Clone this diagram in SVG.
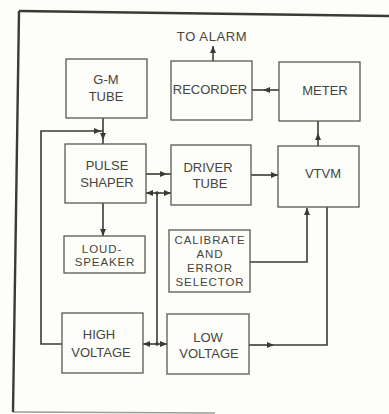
<svg xmlns="http://www.w3.org/2000/svg" width="389" height="414" viewBox="0 0 389 414">
<style>
.bg{fill:#fdfdfa}
.box{fill:none;stroke:#5a5a50;stroke-width:1.3}
.ln{fill:none;stroke:#3b3b33;stroke-width:1.6}
.fr{fill:none;stroke:#3b3b33;stroke-width:2.4}
.t{font-family:"Liberation Sans",Arial,sans-serif;font-size:13px;fill:#45453d;text-anchor:middle}
.s{font-size:11.5px;letter-spacing:0.9px}
.ah{marker-end:url(#arr)}
</style>
<defs>
<marker id="arr" markerUnits="userSpaceOnUse" markerWidth="7" markerHeight="6" refX="7" refY="3" orient="auto">
<path d="M0,0 L7,3 L0,6 z" fill="#3b3b33"/>
</marker>
</defs>
<rect class="bg" x="0" y="0" width="389" height="414"/>
<g id="frame">
<path class="fr" d="M19,11 L389,16"/>
<path class="fr" d="M19,11 L13,412"/>
<path class="ln" d="M13,412 L215,413" stroke-opacity="0.5"/>
</g>
<g id="connectors">
<path class="ln ah" d="M103,118 V140"/><path class="ln" d="M103,140 V144"/>
<path class="ln ah" d="M62,344 H41 V131 H101"/><path class="ln" d="M101,131 H103"/>
<path class="ln ah" d="M146,174 H167"/><path class="ln" d="M167,174 H171"/>
<path class="ln" d="M157,344 V193"/>
<path class="ln ah" d="M157,193 H146"/><path class="ln ah" d="M157,193 H171"/>
<path class="ln ah" d="M157,344 H143"/><path class="ln ah" d="M157,344 H167"/>
<circle cx="157" cy="193" r="1.8" fill="#3b3b33"/>
<circle cx="157" cy="344" r="1.8" fill="#3b3b33"/>
<path class="ln ah" d="M103,203 V236"/>
<path class="ln ah" d="M251,175 H278"/>
<path class="ln ah" d="M318,146 V133"/><path class="ln" d="M318,133 V121"/>
<path class="ln ah" d="M279,90 H263"/><path class="ln" d="M263,90 H252"/>
<path class="ln ah" d="M213,61 V46"/>
<path class="ln ah" d="M250,262 H307 V208"/>
<path class="ln ah" d="M249,345 H274"/><path class="ln" d="M274,345 H327 V207"/>
</g>
<g id="gm-tube"><rect class="box" x="66" y="59" width="81" height="59"/><text class="t" x="106" y="84">G-M</text><text class="t" x="106" y="101">TUBE</text></g>
<g id="recorder"><rect class="box" x="171" y="61" width="81" height="59"/><text class="t" x="210" y="94">RECORDER</text></g>
<g id="meter"><rect class="box" x="279" y="62" width="81" height="59"/><text class="t" x="325" y="95">METER</text></g>
<g id="pulse-shaper"><rect class="box" x="65" y="144" width="81" height="59"/><text class="t" x="107" y="170">PULSE</text><text class="t" x="107" y="187">SHAPER</text></g>
<g id="driver-tube"><rect class="box" x="171" y="145" width="80" height="60"/><text class="t" x="208" y="172">DRIVER</text><text class="t" x="210" y="188">TUBE</text></g>
<g id="vtvm"><rect class="box" x="278" y="146" width="81" height="61"/><text class="t" x="323" y="178">VTVM</text></g>
<g id="loudspeaker"><rect class="box" x="64" y="236" width="81" height="37"/><text class="t s" x="102" y="253">LOUD-</text><text class="t s" x="105" y="266">SPEAKER</text></g>
<g id="calibrate"><rect class="box" x="169" y="230" width="81" height="62"/><text class="t s" x="210" y="244">CALIBRATE</text><text class="t s" x="210" y="257.5">AND</text><text class="t s" x="210" y="271.5">ERROR</text><text class="t s" x="210" y="286">SELECTOR</text></g>
<g id="high-voltage"><rect class="box" x="62" y="313" width="81" height="60"/><text class="t" x="99" y="339">HIGH</text><text class="t" x="101" y="357">VOLTAGE</text></g>
<g id="low-voltage"><rect class="box" x="167" y="314" width="82" height="60"/><text class="t" x="208" y="342">LOW</text><text class="t" x="209" y="358">VOLTAGE</text></g>
<g id="alarm-label"><text class="t" x="212" y="41" style="letter-spacing:0.6px">TO ALARM</text></g>
</svg>
